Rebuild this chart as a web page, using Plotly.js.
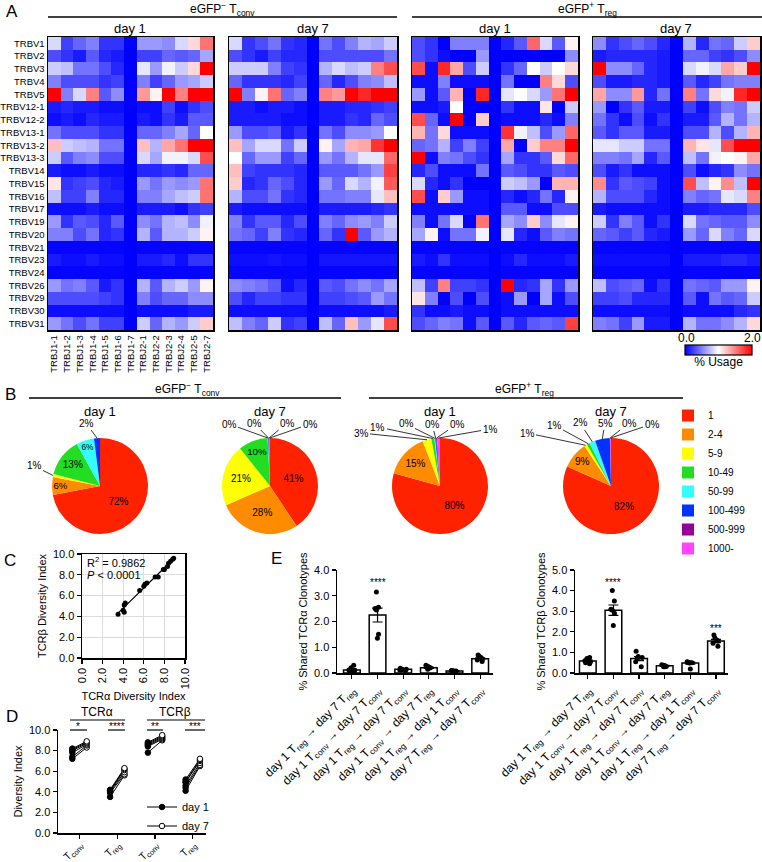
<!DOCTYPE html>
<html><head><meta charset="utf-8">
<script src="https://cdn.plot.ly/plotly-3.0.1.min.js"></script>
<style>html,body{margin:0;padding:0;background:#fff}</style>
</head><body><div id="chart" style="width:762px;height:862px"></div>
<pre id="err" style="position:absolute;left:0;top:0;font-size:9px;color:#a00;white-space:pre-wrap;width:760px"></pre>
<script>
// ---------------- DATA ----------------
const trbv = ['TRBV1','TRBV2','TRBV3','TRBV4','TRBV5','TRBV12-1','TRBV12-2','TRBV13-1','TRBV13-2','TRBV13-3','TRBV14','TRBV15','TRBV16','TRBV17','TRBV19','TRBV20','TRBV21','TRBV23','TRBV24','TRBV26','TRBV29','TRBV30','TRBV31'];
const trbj = ['TRBJ1-1','TRBJ1-2','TRBJ1-3','TRBJ1-4','TRBJ1-5','TRBJ1-6','TRBJ1-7','TRBJ2-1','TRBJ2-2','TRBJ2-3','TRBJ2-4','TRBJ2-5','TRBJ2-7'];

const usageTconvDay1 = [
 [0.85,0.25,0.4,0.5,0.2,0.2,0,0.6,0.6,0.55,0.85,1.15,1.55],
 [0.3,0.2,0.1,0.35,0.15,0.1,0,0.25,0.25,0.4,0.35,0.4,0.65],
 [0.8,0.75,0.45,0.45,0.3,0.15,0,0.9,0.6,0.95,0.8,1.15,2.0],
 [0.5,0.3,0.3,0.3,0.2,0.25,0,0.5,0.25,0.4,0.6,0.65,0.8],
 [2.0,0.5,0.85,1.5,0.35,0.55,0,1.4,1.05,2.0,1.5,2.0,2.0],
 [0.1,0.15,0.1,0.1,0.05,0.05,0,0.05,0.05,0.25,0.05,0.2,0.3],
 [0.05,0.1,0.05,0.15,0.1,0.1,0,0.1,0.05,0.2,0.1,0.35,0.35],
 [0.45,0.3,0.3,0.3,0.2,0.2,0,0.4,0.4,0.5,0.65,0.4,1.0],
 [1.25,0.8,0.75,0.7,0.45,0.45,0,1.25,0.7,1.35,1.55,2.0,2.0],
 [0.8,0.35,0.5,0.55,0.3,0.3,0,0.85,0.65,0.95,0.95,0.85,1.7],
 [0.1,0.05,0.05,0.1,0.05,0.05,0,0.15,0.15,0.2,0.15,0.4,0.4],
 [1.1,0.2,0.25,0.3,0.15,0.1,0,0.6,0.45,0.6,0.55,0.6,1.55],
 [0.75,0.25,0.25,0.5,0.15,0.15,0,0.5,0.5,0.65,0.75,0.8,1.55],
 [0.05,0.05,0.05,0.1,0.05,0.05,0,0.1,0.1,0.1,0.05,0.2,0.25],
 [0.6,0.2,0.35,0.3,0.15,0.35,0,0.55,0.45,0.7,0.75,0.55,0.95],
 [0.5,0.5,0.3,0.45,0.15,0.2,0,0.7,0.35,0.7,0.7,0.8,1.05],
 [0.02,0.02,0.02,0.02,0.02,0.02,0,0.02,0.02,0.02,0.02,0.02,0.02],
 [0.1,0.05,0.05,0.1,0.05,0.05,0,0.1,0.1,0.15,0.05,0.2,0.2],
 [0.02,0.02,0.02,0.02,0.02,0.02,0,0.02,0.02,0.02,0.02,0.02,0.02],
 [0.6,0.45,0.5,0.35,0.1,0.2,0,0.7,0.35,0.7,0.8,0.6,1.05],
 [0.3,0.3,0.3,0.3,0.25,0.2,0,0.5,0.3,0.4,0.4,0.55,0.55],
 [0.05,0.05,0.05,0.05,0.05,0.05,0,0.05,0.05,0.05,0.05,0.1,0.1],
 [0.6,0.45,0.3,0.45,0.25,0.25,0,0.8,0.4,0.7,0.6,0.8,1.2]
];
const usageTconvDay7 = [
 [0.85,0.2,0.3,0.45,0.2,0.15,0,0.45,0.3,0.5,0.7,0.65,0.8],
 [0.3,0.2,0.1,0.25,0.15,0.15,0,0.3,0.3,0.3,0.3,0.3,0.45],
 [0.8,0.8,0.8,0.5,0.25,0.2,0,0.7,0.85,0.75,0.8,1.5,1.7],
 [0.4,0.2,0.2,0.2,0.15,0.25,0,0.4,0.15,0.3,0.5,0.55,0.75],
 [2.0,0.5,1.05,1.55,0.4,0.5,0,1.5,1.4,2.0,1.85,2.0,2.0],
 [0.1,0.1,0.05,0.1,0.1,0.05,0,0.1,0.1,0.15,0.15,0.2,0.25],
 [0.1,0.1,0.1,0.1,0.05,0.05,0,0.1,0.1,0.2,0.15,0.4,0.3],
 [0.6,0.3,0.3,0.35,0.1,0.2,0,0.45,0.3,0.55,0.55,0.6,1.0],
 [1.25,0.65,0.85,0.85,0.45,0.8,0,1.05,0.65,1.3,1.35,1.8,2.0],
 [1.0,0.4,0.6,0.6,0.25,0.4,0,0.6,0.45,0.7,0.9,0.9,1.6],
 [1.25,0.25,0.2,0.2,0.2,0.15,0,0.35,0.35,0.35,0.45,0.6,1.75],
 [1.2,0.15,0.2,0.4,0.3,0.15,0,0.6,0.4,0.85,0.7,0.95,1.65],
 [0.7,0.3,0.3,0.45,0.2,0.15,0,0.45,0.45,0.5,0.5,0.9,1.25],
 [0.1,0.05,0.05,0.05,0.05,0.05,0,0.1,0.1,0.1,0.1,0.15,0.2],
 [0.5,0.2,0.35,0.35,0.15,0.3,0,0.5,0.4,0.55,0.6,0.5,0.8],
 [0.45,0.4,0.25,0.5,0.2,0.15,0,0.4,0.2,2.0,0.35,0.6,0.7],
 [0.02,0.02,0.02,0.02,0.02,0.02,0,0.02,0.02,0.02,0.02,0.02,0.02],
 [0.05,0.05,0.05,0.08,0.05,0.05,0,0.08,0.08,0.08,0.08,0.08,0.08],
 [0.02,0.02,0.02,0.02,0.02,0.02,0,0.02,0.02,0.02,0.02,0.02,0.02],
 [0.55,0.5,0.45,0.35,0.05,0.15,0,0.35,0.3,0.45,0.55,0.45,0.65],
 [0.3,0.15,0.25,0.25,0.2,0.2,0,0.25,0.25,0.3,0.35,0.6,0.45],
 [0.05,0.05,0.05,0.05,0.05,0.05,0,0.05,0.05,0.05,0.05,0.05,0.1],
 [0.75,0.5,0.4,0.8,0.2,0.25,0,0.75,0.4,1.25,0.6,0.9,1.7]
];
const usageTregDay1 = [
 [0.3,0.2,0.0,0.5,0.5,0.5,0,0.15,0.35,1.6,0.85,0.35,1.05],
 [0.3,0.2,0.05,0.0,0.0,0.6,0,0.0,0.0,0.0,0.0,0.0,0.55],
 [1.7,0.05,1.85,1.35,0.3,0.8,0,0.2,0.4,1.0,0.8,1.0,1.15],
 [0.05,0.05,0.5,0.05,0.05,0.05,0,0.45,0.0,0.0,1.5,1.15,0.3],
 [0.6,0.05,0.35,1.3,0.0,1.85,0,0.9,1.0,0.85,0.6,1.55,2.0],
 [0.05,0.05,0.1,1.0,0.0,0.0,0,0.2,0.05,0.05,1.1,0.0,0.8],
 [1.7,0.4,0.05,2.0,0.0,1.2,0,0.05,0.05,0.05,0.15,0.05,0.5],
 [1.3,0.45,1.15,0.05,0.05,0.05,0,1.8,0.95,0.75,0.3,0.6,1.6],
 [0.4,0.45,0.7,0.25,0.5,0.25,0,1.35,0.0,1.2,1.5,1.5,2.0],
 [2.0,0.05,0.5,0.45,0.3,0.2,0,0.65,0.2,0.2,0.35,1.15,1.6],
 [0.15,0.3,0.05,0.05,0.05,0.45,0,0.35,0.3,0.2,0.2,0.35,0.3],
 [0.85,0.15,0.05,0.2,0.0,0.0,0,0.8,0.75,0.6,0.0,1.3,1.3],
 [1.7,0.05,1.2,0.6,0.05,0.05,0,0.15,0.05,0.15,0.45,0.15,1.05],
 [0.05,0.05,0.05,0.05,0.05,0.05,0,0.35,0.35,0.05,0.05,0.3,0.3],
 [0.5,0.05,0.45,0.85,0.0,1.55,0,0.65,0.55,1.2,0.55,0.9,1.05],
 [0.65,1.05,0.05,0.45,0.45,0.95,0,0.9,0.15,0.05,0.35,0.5,0.45],
 [0.02,0.02,0.02,0.02,0.02,0.02,0,0.02,0.02,0.02,0.02,0.02,0.02],
 [0.1,0.05,0.2,0.05,0.05,0.05,0,0.05,0.15,0.05,0.05,0.05,0.1],
 [0.02,0.02,0.02,0.02,0.02,0.02,0,0.02,0.02,0.02,0.02,0.02,0.02],
 [0.75,0.25,1.5,0.25,0.25,0.2,0,2.0,0.15,0.2,0.65,0.2,0.6],
 [1.1,0.5,0.0,0.3,0.0,0.3,0,0.05,0.6,0.0,0.65,0.05,0.3],
 [0.2,0.05,0.05,0.1,0.05,0.05,0,0.05,0.05,0.05,0.05,0.05,0.05],
 [0.3,0.4,0.5,0.45,0.05,0.35,0,0.35,0.15,0.35,0.4,0.35,1.75]
];
const usageTregDay7 = [
 [0.55,0.2,0.3,0.4,0.3,0.15,0,0.7,0.15,0.45,0.4,0.8,1.2],
 [0.1,0.15,0.15,0.15,0.15,0.1,0,0.4,0.4,0.25,0.2,0.3,0.55],
 [2.0,0.55,0.55,0.4,0.15,0.1,0,0.85,0.95,0.85,1.35,1.2,2.0],
 [0.3,0.1,0.1,0.15,0.15,0.1,0,0.35,0.15,0.25,0.45,0.5,0.5],
 [1.35,0.55,0.55,1.4,0.15,0.45,0,1.5,0.45,1.15,0.95,1.85,2.0],
 [0.6,0.0,0.2,0.35,0.1,0.1,0,0.25,0.05,0.3,0.5,0.45,0.8],
 [0.45,0.2,0.05,0.3,0.05,0.2,0,0.1,0.1,0.35,0.7,0.45,0.7],
 [0.35,0.2,0.35,0.35,0.1,0.1,0,0.3,0.3,0.7,0.3,0.7,1.3],
 [0.9,0.9,0.8,0.8,0.45,0.45,0,1.3,1.1,0.9,1.7,2.0,2.0],
 [0.5,0.5,0.45,0.65,0.15,0.35,0,0.75,0.45,0.95,1.0,1.05,1.35],
 [0.3,0.1,0.2,0.05,0.05,0.05,0,0.3,0.05,0.15,0.2,0.55,0.45],
 [1.45,0.2,0.35,0.3,0.25,0.05,0,1.7,0.75,1.05,1.45,0.75,2.0],
 [0.7,0.3,0.3,0.3,0.15,0.05,0,0.5,0.4,0.45,0.9,0.85,1.5],
 [0.1,0.05,0.05,0.05,0.05,0.05,0,0.1,0.1,0.15,0.15,0.15,0.3],
 [0.8,0.2,0.5,0.35,0.05,0.2,0,0.85,0.45,0.4,0.35,0.35,0.55],
 [0.4,0.35,0.25,0.35,0.15,0.1,0,0.6,0.4,0.85,0.5,0.4,0.85],
 [0.02,0.02,0.02,0.02,0.02,0.02,0,0.02,0.02,0.02,0.02,0.02,0.02],
 [0.05,0.05,0.05,0.05,0.05,0.05,0,0.1,0.1,0.1,0.15,0.15,0.1],
 [0.02,0.02,0.02,0.02,0.02,0.02,0,0.02,0.02,0.02,0.02,0.02,0.02],
 [0.75,0.3,0.35,0.4,0.05,0.2,0,0.45,0.4,0.35,0.6,0.6,1.05],
 [0.25,0.25,0.3,0.15,0.15,0.15,0,0.35,0.05,0.45,0.35,0.4,0.8],
 [0.05,0.05,0.05,0.05,0.05,0.05,0,0.05,0.05,0.05,0.05,0.15,0.2],
 [0.5,0.45,0.25,0.6,0.1,0.1,0,0.7,0.45,0.45,0.55,0.7,1.15]
];

// Panel B: clonotype frequency bins (% of clonotypes)
const clonoBins = ['1','2-4','5-9','10-49','50-99','100-499','500-999','1000-'];
const pieTconvDay1 = [72,6,1,13,6,2,0,0];
const pieTconvDay7 = [41,28,21,10,0.2,0.2,0.2,0.2];
const pieTregDay1  = [80,15,3,1,0.3,0.3,0.3,1];
const pieTregDay7  = [82,9,1,1,2,5,0.2,0.2];

// Panel C: diversity index
const tcraDiversity = [3.5,4.0,4.1,4.1,4.2,5.6,6.0,6.1,6.3,7.1,7.4,7.9,8.0,8.3,8.4,8.6,8.8,8.9];
const tcrbDiversity = [4.2,4.6,4.4,5.1,5.3,6.5,6.9,7.1,7.2,7.8,7.8,8.5,8.5,8.8,9.1,9.3,9.5,9.6];

// Panel D: paired diversity, day 1 -> day 7
const dGroups = ['T<sub>conv</sub>','T<sub>reg</sub>','T<sub>conv</sub>','T<sub>reg</sub>'];
const divDay1 = [
 [7.2,7.4,7.8,8.0,8.1,8.2],
 [3.5,3.9,4.0,4.1,4.1,4.2],
 [7.8,8.4,8.5,8.6,8.7,8.8],
 [4.1,4.4,4.6,4.9,5.0,5.2]
];
const divDay7 = [
 [8.3,8.5,8.6,8.7,8.8,8.9],
 [5.6,5.7,5.9,6.1,6.2,6.3],
 [9.0,9.1,9.2,9.3,9.4,9.5],
 [6.5,6.6,6.8,7.0,7.1,7.2]
];

// Panel E: shared clonotypes
const shareCats = [
 'day 1 T<sub>reg</sub> → day 7 T<sub>reg</sub>',
 'day 1 T<sub>conv</sub> → day 7 T<sub>conv</sub>',
 'day 1 T<sub>reg</sub> → day 7 T<sub>conv</sub>',
 'day 1 T<sub>conv</sub> → day 7 T<sub>reg</sub>',
 'day 1 T<sub>reg</sub> → day 1 T<sub>conv</sub>',
 'day 7 T<sub>reg</sub> → day 7 T<sub>conv</sub>'
];
const shareAlphaMean = [0.12,2.25,0.15,0.2,0.08,0.55];
const shareAlphaSem  = [0.04,0.27,0.015,0.025,0.015,0.04];
const shareAlphaPts = [
 [0.05,0.08,0.1,0.12,0.2,0.3],
 [3.15,2.55,2.5,2.45,1.5,1.35],
 [0.1,0.12,0.15,0.15,0.18,0.12],
 [0.15,0.18,0.2,0.22,0.25,0.3],
 [0.05,0.06,0.08,0.1,0.08,0.1],
 [0.45,0.5,0.55,0.6,0.65,0.7]
];
const shareBetaMean = [0.58,3.05,0.7,0.35,0.48,1.55];
const shareBetaSem  = [0.05,0.25,0.1,0.02,0.05,0.08];
const shareBetaPts = [
 [0.45,0.5,0.55,0.6,0.7,0.75],
 [4.0,3.5,3.1,3.05,2.9,2.3],
 [1.05,0.8,0.75,0.7,0.55,0.3],
 [0.3,0.32,0.35,0.38,0.4,0.3],
 [0.55,0.52,0.5,0.5,0.48,0.2],
 [1.85,1.7,1.6,1.55,1.45,1.3]
];

// ---------------- HELPERS ----------------
const W = 762, H = 862;
const X = p => p / W;
const Y = p => 1 - p / H;
const FONT = 'Arial, "Liberation Sans", sans-serif';

const traces = [];
const annotations = [];
const shapes = [];
function ann(text, x, y, o) {
  annotations.push(Object.assign({text: text, x: X(x), y: Y(y), xref: 'paper', yref: 'paper',
    showarrow: false, xanchor: 'center', yanchor: 'middle', font: {size: 12}}, o || {}));
}
function hline(x0, x1, y, w) {
  shapes.push({type: 'line', xref: 'paper', yref: 'paper', x0: X(x0), x1: X(x1), y0: Y(y), y1: Y(y),
    line: {color: '#000', width: w || 1.5}});
}

// ---------------- PANEL A ----------------
const hmSets = [usageTconvDay1, usageTconvDay7, usageTregDay1, usageTregDay7];
const hmX = [[48,213],[229,397],[412,578],[593,760]];
hmSets.forEach(function (z, i) {
  const s = i === 0 ? '' : String(i + 1);
  traces.push({type: 'heatmap', z: z, x: trbj, y: trbv, xaxis: 'x' + s, yaxis: 'y' + s,
    coloraxis: 'coloraxis'});
});

ann('A', 12, 12, {font: {size: 17}});
ann('eGFP<sup>−</sup> T<sub>conv</sub>', 222, 9);
ann('eGFP<sup>+</sup> T<sub>reg</sub>', 587, 9);
hline(48, 397, 17); hline(412, 762, 17);
ann('day 1', 130, 29, {font: {size: 13}});
ann('day 7', 313, 29, {font: {size: 13}});
ann('day 1', 495, 29, {font: {size: 13}});
ann('day 7', 676, 29, {font: {size: 13}});
ann('0.0', 686, 338, {font: {size: 12}});
ann('2.0', 752, 338, {font: {size: 12}});

// ---------------- PANEL B ----------------
const pieColors = ['#ff2200','#ff8c00','#ffff00','#22dd22','#33ffff','#0033ff','#990099','#ff44ff'];
const pieSets = [pieTconvDay1, pieTconvDay7, pieTregDay1, pieTregDay7];
const pieCx = [100, 270, 440, 611], pieCy = 486, pieR = 48;
// where the labels of the thin slices sit (page pixels), per pie, keyed by slice index
const pieLabelPos = [
  {2: [34, 466], 5: [86, 423]},
  {4: [229, 424], 5: [254, 423], 6: [287, 423], 7: [310, 424]},
  {2: [361, 433], 3: [378, 427], 4: [406, 424], 5: [432, 424], 6: [457, 424], 7: [490, 429]},
  {2: [527, 433], 3: [554, 425], 4: [580, 423], 5: [605, 423], 6: [629, 423], 7: [652, 424]}
];
pieSets.forEach(function (v, i) {
  const textpos = v.map(val => val > 5 ? 'inside' : 'none');
  traces.push({type: 'pie', values: v, labels: clonoBins, sort: false, direction: 'clockwise', rotation: 0,
    marker: {colors: pieColors, line: {width: 0}},
    texttemplate: '%{value:.0f}%', textposition: textpos, insidetextorientation: 'horizontal',
    textfont: {size: 10, color: '#000'},
    domain: {x: [X(pieCx[i] - pieR), X(pieCx[i] + pieR)], y: [Y(pieCy + pieR), Y(pieCy - pieR)]}});
  const total = v.reduce((a, b) => a + b, 0);
  let cum = 0;
  v.forEach(function (val, k) {
    const mid = (cum + val / 2) / total * 2 * Math.PI;
    cum += val;
    const pos = pieLabelPos[i][k];
    if (!pos || val <= 0) return;
    const tx = pieCx[i] + pieR * Math.sin(mid), ty = pieCy - pieR * Math.cos(mid);
    annotations.push({x: X(tx), y: Y(ty), xref: 'paper', yref: 'paper', text: Math.round(val) + '%',
      showarrow: true, arrowhead: 0, arrowwidth: 0.8, arrowcolor: '#000', standoff: 0,
      ax: pos[0] - tx, ay: pos[1] - ty, font: {size: 10}});
  });
});
ann('B', 10, 394, {font: {size: 17}});
ann('eGFP<sup>−</sup> T<sub>conv</sub>', 187, 389);
ann('eGFP<sup>+</sup> T<sub>reg</sub>', 524, 389);
hline(29, 341, 398); hline(369, 683, 398);
ann('day 1', 100, 411, {font: {size: 13}});
ann('day 7', 270, 411, {font: {size: 13}});
ann('day 1', 440, 411, {font: {size: 13}});
ann('day 7', 611, 411, {font: {size: 13}});

// ---------------- PANEL C ----------------
traces.push({type: 'scatter', mode: 'markers', x: tcraDiversity, y: tcrbDiversity, xaxis: 'x5', yaxis: 'y5',
  marker: {color: '#000', size: 5}, showlegend: false});
(function () {
  const n = tcraDiversity.length;
  const mx = tcraDiversity.reduce((a, b) => a + b, 0) / n;
  const my = tcrbDiversity.reduce((a, b) => a + b, 0) / n;
  let sxy = 0, sxx = 0;
  for (let i = 0; i < n; i++) { sxy += (tcraDiversity[i] - mx) * (tcrbDiversity[i] - my); sxx += (tcraDiversity[i] - mx) ** 2; }
  const b = sxy / sxx, a = my - b * mx;
  const x0 = Math.min.apply(null, tcraDiversity), x1 = Math.max.apply(null, tcraDiversity);
  traces.push({type: 'scatter', mode: 'lines', x: [x0, x1], y: [a + b * x0, a + b * x1], xaxis: 'x5', yaxis: 'y5',
    line: {color: '#000', width: 1.2}, showlegend: false});
})();
ann('C', 10, 560, {font: {size: 17}});
ann('R<sup>2</sup> = 0.9862', 85, 562, {xanchor: 'left', font: {size: 11}});
ann('<i>P</i> < 0.0001', 85, 575, {xanchor: 'left', font: {size: 11}});

// ---------------- PANEL D ----------------
const off = 0.19;
divDay1.forEach(function (g, gi) {
  g.forEach(function (v, k) {
    traces.push({type: 'scatter', mode: 'lines', x: [gi + 1 - off, gi + 1 + off], y: [v, divDay7[gi][k]],
      xaxis: 'x6', yaxis: 'y6', line: {color: '#000', width: 1}, showlegend: false});
  });
});
function dayTrace(vals, sign, name, fill) {
  const xs = [], ys = [];
  vals.forEach(function (g, gi) { g.forEach(function (v) { xs.push(gi + 1 + sign * off, null); ys.push(v, null); }); });
  traces.push({type: 'scatter', mode: 'lines+markers', x: xs, y: ys, connectgaps: false, xaxis: 'x6', yaxis: 'y6',
    name: name, legend: 'legend2', line: {color: '#000', width: 1.2},
    marker: {size: 5.5, color: fill, line: {color: '#000', width: 1}}});
}
dayTrace(divDay1, -1, 'day 1', '#000');
dayTrace(divDay7, 1, 'day 7', '#fff');
ann('D', 12, 716, {font: {size: 17}});
ann('TCRα', 97, 712, {font: {size: 12}});
ann('TCRβ', 175, 712, {font: {size: 12}});
hline(70, 125, 720, 1.2); hline(147, 205, 720, 1.2);
hline(70, 87, 730, 1.2); hline(108, 125, 730, 1.2); hline(147, 163, 730, 1.2); hline(185, 205, 730, 1.2);
ann('*', 78, 726, {font: {size: 10}});
ann('****', 117, 726, {font: {size: 10}});
ann('**', 155, 726, {font: {size: 10}});
ann('***', 195, 726, {font: {size: 10}});

// ---------------- PANEL E ----------------
function shareTraces(mean, sem, pts, xa, ya) {
  traces.push({type: 'bar', x: shareCats, y: mean, xaxis: xa, yaxis: ya, width: 0.65,
    marker: {color: '#fff', line: {color: '#000', width: 1.5}},
    error_y: {type: 'data', array: sem, color: '#000', thickness: 1.2, width: 5}, showlegend: false});
  const px = [], py = [];
  pts.forEach(function (arr, ci) { arr.forEach(function (v) { px.push(shareCats[ci]); py.push(v); }); });
  traces.push({type: 'box', x: px, y: py, xaxis: xa, yaxis: ya, boxpoints: 'all', jitter: 0.55, pointpos: 0,
    fillcolor: 'rgba(0,0,0,0)', line: {width: 0, color: 'rgba(0,0,0,0)'},
    marker: {color: '#000', size: 5}, showlegend: false});
}
shareTraces(shareAlphaMean, shareAlphaSem, shareAlphaPts, 'x7', 'y7');
shareTraces(shareBetaMean, shareBetaSem, shareBetaPts, 'x8', 'y8');
ann('E', 276, 558, {font: {size: 17}});
annotations.push({text: '****', xref: 'x7', yref: 'y7', x: shareCats[1], y: 3.5, showarrow: false, font: {size: 10}});
annotations.push({text: '****', xref: 'x8', yref: 'y8', x: shareCats[1], y: 4.4, showarrow: false, font: {size: 10}});
annotations.push({text: '***', xref: 'x8', yref: 'y8', x: shareCats[5], y: 2.15, showarrow: false, font: {size: 10}});

// ---------------- LAYOUT ----------------
function hmAxes(i) {
  const s = i === 0 ? '' : String(i + 1);
  const xa = {domain: [X(hmX[i][0]), X(hmX[i][1])], anchor: 'y' + s, type: 'category', showline: true, mirror: true,
    linecolor: '#000', linewidth: 1.5, ticks: '', tickangle: -90, tickfont: {size: 9.5}, showgrid: false,
    showticklabels: i === 0, zeroline: false};
  const ya = {domain: [Y(330), Y(37)], anchor: 'x' + s, type: 'category', autorange: 'reversed', showline: true,
    mirror: true, linecolor: '#000', linewidth: 1.5, ticks: '', tickfont: {size: 9.5}, showgrid: false,
    showticklabels: i === 0, zeroline: false};
  return [xa, ya];
}
const base = {showline: true, linecolor: '#000', linewidth: 1.5, ticks: 'outside', ticklen: 4, tickwidth: 1.2,
  tickcolor: '#000', showgrid: false, zeroline: false, tickfont: {size: 11}};
const A = (o) => Object.assign({}, base, o);

const layout = {
  width: W, height: H, margin: {l: 0, r: 0, t: 0, b: 0, autoexpand: false}, paper_bgcolor: '#fff', plot_bgcolor: 'rgba(0,0,0,0)',
  font: {family: FONT, size: 11, color: '#000'}, hovermode: false,
  legend: {x: X(668), xanchor: 'left', y: Y(482), yanchor: 'middle', font: {size: 10}, bgcolor: 'rgba(0,0,0,0)',
    traceorder: 'normal'},
  legend2: {x: X(142), xanchor: 'left', y: Y(795), yanchor: 'top', font: {size: 11}, bgcolor: 'rgba(0,0,0,0)',
    tracegroupgap: 0},
  coloraxis: {cmin: 0, cmax: 2, colorscale: [[0, '#0000ff'], [0.5, '#ffffff'], [1, '#ff0000']],
    colorbar: {orientation: 'h', x: X(685), xanchor: 'left', y: Y(345), yanchor: 'top', len: 67, lenmode: 'pixels',
      thickness: 10, thicknessmode: 'pixels', outlinewidth: 1.2, outlinecolor: '#000',
      tickvals: [], tickfont: {size: 1, color: 'rgba(0,0,0,0)'},
      ticks: '', xpad: 0, ypad: 0, title: {text: '% Usage', side: 'bottom', font: {size: 12}}}},
  // Panel C
  xaxis5: A({domain: [X(82), X(185)], anchor: 'y5', range: [0, 10], dtick: 2, tickformat: '.1f', tickangle: -90,
    mirror: true, showgrid: true, gridcolor: '#dcdcdc', title: {text: 'TCRα Diversity Index', font: {size: 11}, standoff: 4}}),
  yaxis5: A({domain: [Y(658), Y(554)], anchor: 'x5', range: [0, 10], dtick: 2, tickformat: '.1f',
    mirror: true, showgrid: true, gridcolor: '#dcdcdc', title: {text: 'TCRβ Diversity Index', font: {size: 11}, standoff: 4}}),
  // Panel D
  xaxis6: A({domain: [X(58), X(206)], anchor: 'y6', range: [0.43, 4.35], tickvals: [1, 2, 3, 4], ticktext: dGroups,
    tickangle: -45, tickfont: {size: 10.5}, ticklabelstandoff: -4}),
  yaxis6: A({domain: [Y(833), Y(730)], anchor: 'x6', range: [0, 10], dtick: 2, tickformat: '.1f',
    title: {text: 'Diversity Index', font: {size: 11}, standoff: 4}}),
  // Panel E
  xaxis7: A({domain: [X(337), X(493)], anchor: 'y7', type: 'category', range: [-0.58, 5.5], tickangle: -45, tickfont: {size: 12}}),
  yaxis7: A({domain: [Y(673), Y(570)], anchor: 'x7', range: [0, 4], dtick: 1, tickformat: '.1f',
    title: {text: '% Shared TCRα Clonotypes', font: {size: 11}, standoff: 4}}),
  xaxis8: A({domain: [X(575), X(728)], anchor: 'y8', type: 'category', range: [-0.5, 5.47], tickangle: -45, tickfont: {size: 12}}),
  yaxis8: A({domain: [Y(673), Y(570)], anchor: 'x8', range: [0, 5], dtick: 1, tickformat: '.1f',
    title: {text: '% Shared TCRβ Clonotypes', font: {size: 11}, standoff: 4}}),
  annotations: annotations, shapes: shapes
};
for (let i = 0; i < 4; i++) {
  const s = i === 0 ? '' : String(i + 1);
  const ax = hmAxes(i);
  layout['xaxis' + s] = ax[0];
  layout['yaxis' + s] = ax[1];
}

function showErr(e) { document.getElementById('err').textContent = String(e && e.stack || e); }
// after drawing, nudge the D legend so its first entry sits where the reference has it
function placeLegend2(gd) {
  const items = gd.querySelectorAll('g.legend2 g.traces');
  if (!items.length) return;
  const box = gd.getBoundingClientRect();
  const r = items[0].getBoundingClientRect();
  const cy = r.top + r.height / 2 - box.top;
  const dy = 807 - cy;
  if (Math.abs(dy) < 1) return;
  return Plotly.relayout(gd, {'legend2.y': gd._fullLayout.legend2.y - dy / H});
}
try {
  const gd = document.getElementById('chart');
  const p = Plotly.newPlot(gd, traces, layout, {displayModeBar: false, staticPlot: true});
  if (p && p.then) p.then(() => placeLegend2(gd)).catch(showErr);
} catch (e) { showErr(e); }
</script></body></html>
